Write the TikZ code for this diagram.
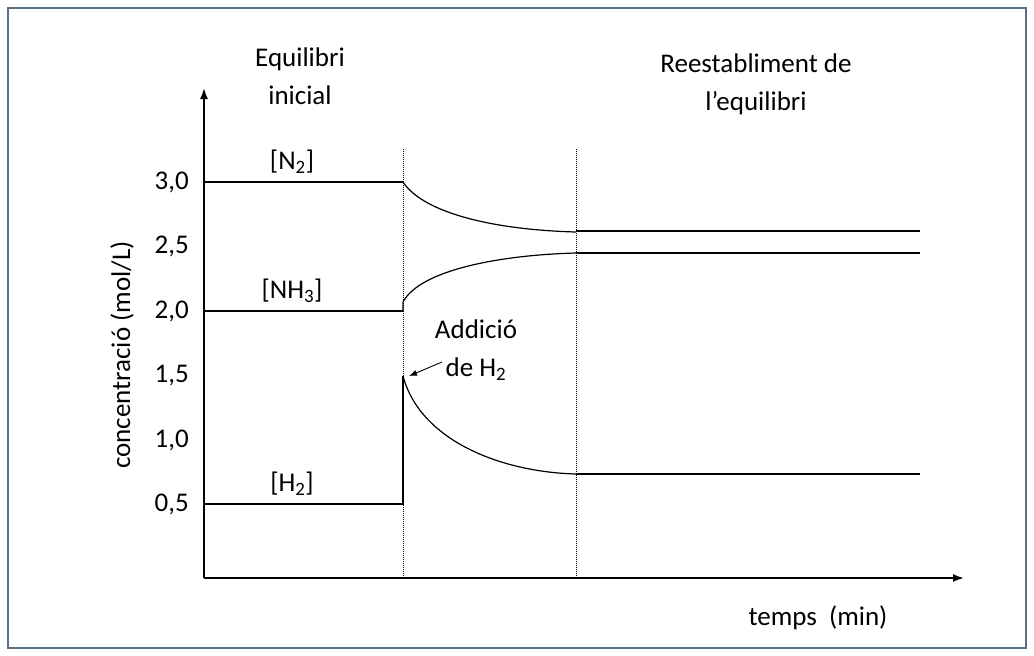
\documentclass[tikz,border=0pt]{standalone}
\usepackage{fontspec}
\usetikzlibrary{arrows.meta}
\setmainfont{Carlito}
\begin{document}
\begin{tikzpicture}[x=1pt,y=-1pt,
  lbl/.style={font=\fontsize{27}{38}\selectfont,inner sep=0pt},
  thk/.style={line width=2.2pt},
  crv/.style={line width=1.2pt},
  dot/.style={densely dotted,line width=1pt}]
\useasboundingbox (0,0) rectangle (1034,656);
\draw[color={rgb,255:red,90;green,110;blue,130},line width=1.2pt] (8,8) rectangle (1026,648);
\coordinate (o) at (204,578);
\coordinate (ytop) at (204,88);
\coordinate (xend) at (964,578);
\draw[line width=1.8pt,-{Latex[length=11pt,width=8pt]}] (o) -- (ytop);
\draw[line width=1.8pt,-{Latex[length=11pt,width=8pt]}] (o) -- (xend);
\node[lbl,anchor=east] (t30) at (189,182) {3,0};
\node[lbl,anchor=east] (t25) at (189,246) {2,5};
\node[lbl,anchor=east] (t20) at (189,311) {2,0};
\node[lbl,anchor=east] (t15) at (189,376) {1,5};
\node[lbl,anchor=east] (t10) at (189,440) {1,0};
\node[lbl,anchor=east] (t05) at (189,504) {0,5};
\node[lbl,rotate=90] (ylab) at (122,355) {concentració (mol/L)};
\node[lbl] (xlab) at (818,618) {temps\ \ (min)};
\node[lbl,align=center] (eq) at (300,76) {Equilibri\\inicial};
\node[lbl,align=center] (re) at (756,84) {Reestabliment de\\l’equilibri};
\coordinate (d1b) at (403,578); \coordinate (d1t) at (403,148);
\coordinate (d2b) at (576,578); \coordinate (d2t) at (576,148);
\draw[dot] (d1b) -- (d1t);
\draw[dot] (d2b) -- (d2t);
% N2
\draw[thk] (204,182) -- (403,182);
\draw[crv] (403,182) .. controls (425,215) and (500,230) .. (576,232);
\draw[thk] (576,231) -- (920,231);
\node[lbl] (n2) at (292,162) {[N\textsubscript{2}]};
% NH3
\draw[thk] (204,311) -- (403,311);
\draw[crv] (403,311) -- (403,302) .. controls (420,270) and (500,255) .. (576,253);
\draw[thk] (576,253) -- (920,253);
\node[lbl] (nh3) at (292,291) {[NH\textsubscript{3}]};
% H2
\draw[thk] (204,504) -- (403,504) -- (403,376);
\draw[crv] (403,376) .. controls (420,440) and (500,472) .. (576,474);
\draw[thk] (576,474) -- (920,474);
\node[lbl] (h2) at (292,484) {[H\textsubscript{2}]};
\node[lbl,align=center] (add) at (476,350) {Addició\\de H\textsubscript{2}};
\coordinate (arr) at (409,376);
\draw[-{Latex[length=8pt,width=6pt]},line width=0.9pt] (442,362) -- (arr);
\end{tikzpicture}
\end{document}
